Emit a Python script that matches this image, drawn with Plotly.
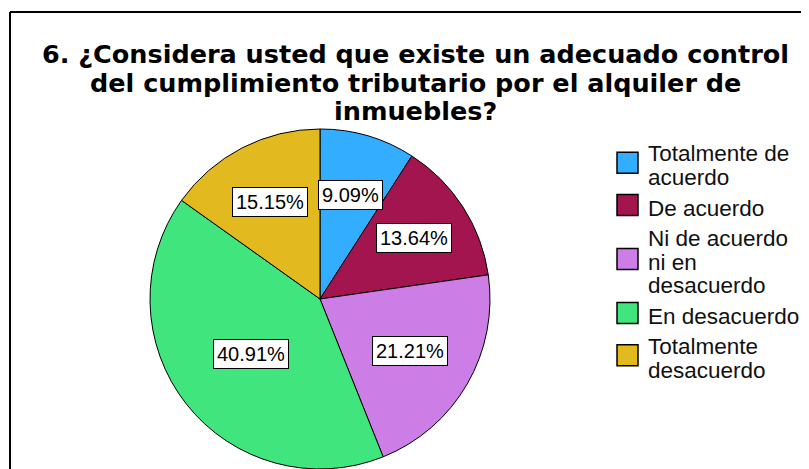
import math
import textwrap
import plotly.graph_objects as go

categories = [
    "Totalmente de acuerdo",
    "De acuerdo",
    "Ni de acuerdo ni en desacuerdo",
    "En desacuerdo",
    "Totalmente desacuerdo",
]
percents = [9.09, 13.64, 21.21, 40.91, 15.15]
colors = ["#33adff", "#a3154f", "#cc7ee6", "#40e67d", "#e2b91f"]
title_lines = [
    "6. ¿Considera usted que existe un adecuado control",
    "del cumplimiento tributario por el alquiler de",
    "inmuebles?",
]

# the page body has an 8px margin, so the figure is shifted by that much
OFF = 8
W, H = 809 - OFF, 469 - OFF
# pie geometry in window pixels
cx, cy, r = 320, 299, 170
# radial position of each box label, as a fraction of the radius
label_frac = [0.64, 0.66, 0.61, 0.52, 0.64]


def px(x):
    return (x - OFF) / W


def py(y):
    return 1 - (y - OFF) / H


fig = go.Figure(
    go.Pie(
        labels=categories,
        values=percents,
        sort=False,
        direction="clockwise",
        rotation=0,
        textinfo="none",
        marker=dict(colors=colors, line=dict(color="black", width=1)),
        domain=dict(x=[px(cx - r), px(cx + r)], y=[py(cy + r), py(cy - r)]),
        showlegend=False,
    )
)

annotations = []

# percentage labels in white boxes
total = sum(percents)
cum = 0
for i, v in enumerate(percents):
    mid = (cum + v / 2) / total * 2 * math.pi
    cum += v
    d = label_frac[i] * r
    annotations.append(dict(
        x=px(cx + d * math.sin(mid)), y=py(cy - d * math.cos(mid)),
        xref="paper", yref="paper", showarrow=False,
        xanchor="center", yanchor="middle",
        text=f"{v:.2f}%",
        font=dict(family="Liberation Sans, Arial", size=20, color="black"),
        bgcolor="white", bordercolor="black", borderwidth=1, borderpad=3,
    ))

# title
for i, line in enumerate(title_lines):
    annotations.append(dict(
        x=px(415), y=py(63 + i * 28.5 - 9), xref="paper", yref="paper",
        showarrow=False, text=line,
        font=dict(family="DejaVu Sans", size=25.5, color="black", weight="bold"),
        xanchor="center", yanchor="middle",
    ))

# legend, drawn by hand to get the tight line spacing
shapes = []
base = 162
for i, name in enumerate(categories):
    lines = textwrap.wrap(name, 13)
    baselines = [base + k * 23.5 for k in range(len(lines))]
    for b, line in zip(baselines, lines):
        annotations.append(dict(
            x=px(646), y=py(b - 8), xref="paper", yref="paper",
            showarrow=False, text=line, xanchor="left", yanchor="middle",
            font=dict(family="Liberation Sans, Arial", size=22.5, color="#111"),
        ))
    sc = sum(baselines) / len(baselines) - 11
    shapes.append(dict(
        type="rect", xref="paper", yref="paper",
        x0=px(617), x1=px(638), y0=py(sc + 10.5), y1=py(sc - 10.5),
        fillcolor=colors[i], line=dict(color="black", width=1.5),
    ))
    base = baselines[-1] + 30.5

# frame around the chart (only left and top edges are in view)
shapes.append(dict(type="line", xref="paper", yref="paper",
                   x0=px(10), x1=px(10), y0=py(12), y1=-0.05,
                   line=dict(color="black", width=2)))
shapes.append(dict(type="line", xref="paper", yref="paper",
                   x0=px(10), x1=1.05, y0=py(12), y1=py(12),
                   line=dict(color="black", width=2)))

fig.update_layout(
    width=W,
    height=H,
    margin=dict(l=0, r=0, t=0, b=0),
    paper_bgcolor="white",
    plot_bgcolor="white",
    annotations=annotations,
    shapes=shapes,
)

fig.write_html("out.html")
